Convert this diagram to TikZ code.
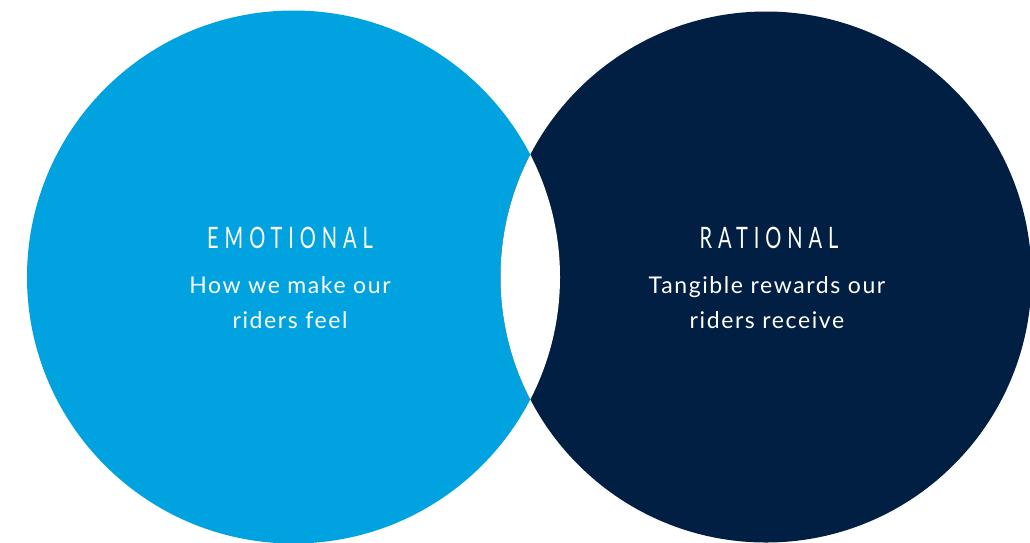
\documentclass[tikz,border=0pt]{standalone}
\usepackage{fontspec}
\setmainfont{Lato}[LetterSpace=7]
\newfontfamily\headfont[FakeStretch=0.68,LetterSpace=20]{Lato}
\definecolor{skyblue}{HTML}{00A3E0}
\definecolor{navy}{HTML}{001F42}
\begin{document}
\begin{tikzpicture}[x=1pt,y=-1pt,
  heading/.style={text=white,font=\headfont\fontsize{29.5}{30}\selectfont,inner sep=0pt,anchor=base},
  body/.style={text=white,font=\fontsize{23}{35}\selectfont,align=center,inner sep=0pt,anchor=base}]
  \useasboundingbox (0,0) rectangle (1030,542);
  \begin{scope}
    \clip (0,0) rectangle (1030,542);
    % the two circles, and the white lens where they overlap
    \fill[skyblue] (293.5,277) circle[radius=266.5];
    \fill[navy] (766,277) circle[radius=265.5];
    \begin{scope}
      \clip (293.5,277) circle[radius=266.5];
      \fill[white] (766,277) circle[radius=265.5];
    \end{scope}
  \end{scope}
  \node[heading] (emo) at (290,248) {EMOTIONAL};
  \node[body] (emotext) at (290,328) {How we make our\\riders feel};
  \node[heading] (rat) at (769,248) {RATIONAL};
  \node[body] (rattext) at (767,328) {Tangible rewards our\\riders receive};
\end{tikzpicture}
\end{document}
